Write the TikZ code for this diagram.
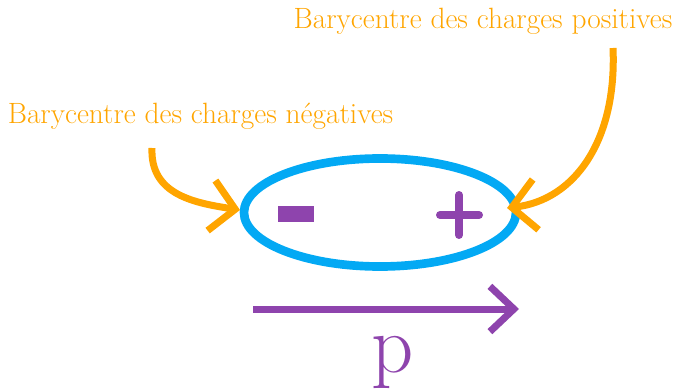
\documentclass[tikz,border=0pt]{standalone}
\usetikzlibrary{shapes.geometric,arrows.meta}
\definecolor{corange}{RGB}{255,165,0}
\definecolor{cblue}{RGB}{3,169,244}
\definecolor{cpurple}{RGB}{142,68,173}
\begin{document}
\begin{tikzpicture}[x=0.75pt,y=-0.75pt,
  lbl/.style={text=corange,font=\fontsize{22}{24}\selectfont,inner sep=0pt},
  curvarrow/.style={draw=corange,line width=5.25pt,-{Straight Barb[length=18pt,width=38pt,line cap=butt,line join=miter]}},
  sign/.style={draw=cpurple,line width=6pt}]
\useasboundingbox (0,0) rectangle (674,392);
\node[lbl] (lpos) at (483,21) {Barycentre des charges positives};
\node[lbl] (lneg) at (200.5,116) {Barycentre des charges négatives};
\node[ellipse,draw=cblue,line width=6.5pt,minimum width=272*0.75pt,minimum height=108*0.75pt,inner sep=0pt] (dip) at (380,212.5) {};
\coordinate (sneg) at (152,148);
\coordinate (spos) at (613,48);
\coordinate (tneg) at (240,210);
\coordinate (tpos) at (507,208);
\draw[curvarrow] (sneg) .. controls (150,195) and (195,203) .. (tneg);
\draw[curvarrow] (spos) .. controls (617,140) and (575,200) .. (tpos);
\draw[cpurple,line width=12pt] (278,214) -- (314,214);
\draw[sign,line cap=round] (440,215) -- (479,215) (459,195) -- (459,235);
\coordinate (pa) at (253,309);
\coordinate (pb) at (519,309);
\draw[draw=cpurple,line width=5.25pt,-{Straight Barb[length=18pt,width=34pt,line cap=butt,line join=miter]}] (pa) -- (pb);
\node[text=cpurple,font=\fontsize{62}{62}\selectfont,inner sep=0pt,anchor=base] (p) at (393,372) {p};
\end{tikzpicture}
\end{document}
